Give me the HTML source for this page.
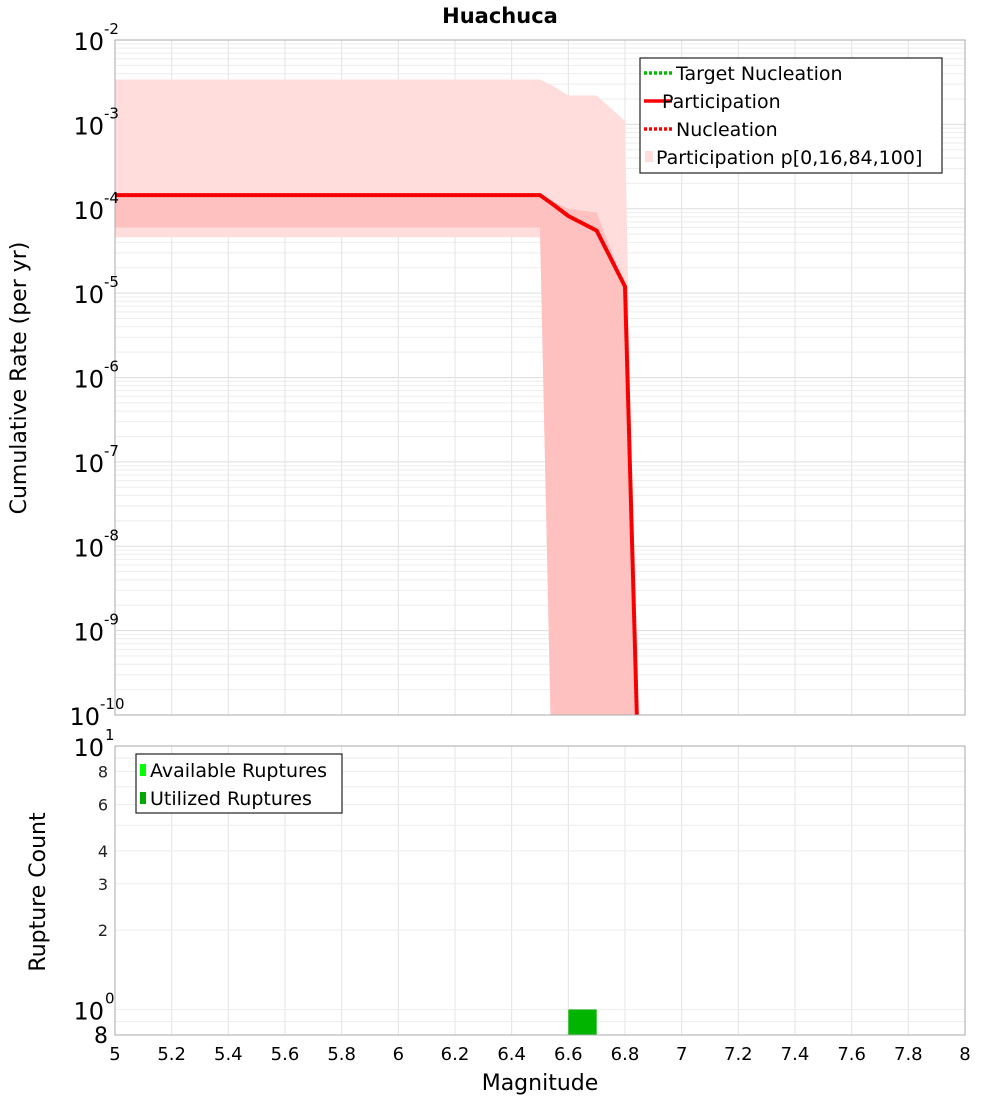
<!DOCTYPE html>
<html><head><meta charset="utf-8"><style>
body{margin:0;background:#fff;font-family:"Liberation Sans","DejaVu Sans",sans-serif}
svg text{font-family:"DejaVu Sans","Liberation Sans",sans-serif}
</style></head><body>
<svg id="c" width="1000" height="1100" xmlns="http://www.w3.org/2000/svg">
<rect width="1000" height="1100" fill="#fff"/>
<text x="500" y="23" text-anchor="middle" font-size="21" font-weight="bold">Huachuca</text>
<g id="topG"></g><g id="botG"></g>
<text x="26" y="378" font-size="22" text-anchor="middle" transform="rotate(-90 26 378)">Cumulative Rate (per yr)</text>
<text x="45" y="892" font-size="22" text-anchor="middle" transform="rotate(-90 45 892)">Rupture Count</text>
<text x="540" y="1090" font-size="22" text-anchor="middle">Magnitude</text>
</svg>
<script>
const mags=[5,6.5,6.55,6.6,6.7,6.8,6.85];
const meanRate=[1.45e-4,1.45e-4,1.1e-4,8.2e-5,5.5e-5,1.2e-5,1e-11];
const p0=[4.6e-5,4.6e-5,1e-12,1e-12,1e-12,1e-12,1e-12];
const p16=[6e-5,6e-5,1e-12,1e-12,1e-12,1e-12,1e-12];
const p84=[1.5e-4,1.5e-4,1.2e-4,1e-4,9e-5,1.2e-5,1e-12];
const p100=[3.4e-3,3.4e-3,2.8e-3,2.2e-3,2.2e-3,1.1e-3,1e-12];
const barMags=[6.65];
const barCounts=[1];
const xTicks=[5,5.2,5.4,5.6,5.8,6,6.2,6.4,6.6,6.8,7,7.2,7.4,7.6,7.8,8];
const yExps=[-2,-3,-4,-5,-6,-7,-8,-9,-10];
const NS='http://www.w3.org/2000/svg';
const L=115,R=965,T1=40,B1=715,T2=746,B2=1035;
const X=m=>L+(m-5)*(R-L)/3;
const Y1=v=>T1+(-2-Math.log10(v))*(B1-T1)/8;
const Y2=v=>T2+(1-Math.log10(v))*(B2-T2)/(1-Math.log10(0.8));
function el(p,tag,a,name){const e=document.createElementNS(NS,tag);for(const k in a)e.setAttribute(k,a[k]);


p.appendChild(e);return e;}
const svgRoot=document.getElementById('c');
const defs=el(svgRoot,'defs',{},'defs');
const cp=el(defs,'clipPath',{id:'cp1'},'clip');el(cp,'rect',{x:L,y:T1,width:R-L,height:B1-T1},'clip-rect');
const topG=document.getElementById('topG'),botG=document.getElementById('botG');
for(let e=-10;e<-2;e++)for(let k=1;k<10;k++){const y=Y1(k*Math.pow(10,e));el(topG,'line',{x1:L,x2:R,y1:y,y2:y,stroke:k==1?'#ddd':'#eee','stroke-width':1},'grid-line-y');}
for(const t of xTicks){el(topG,'line',{x1:X(t),x2:X(t),y1:T1,y2:B1,stroke:'#e4e4e4'},'grid-line-x');el(botG,'line',{x1:X(t),x2:X(t),y1:T2,y2:B2,stroke:'#e4e4e4'},'grid-line-x');}
const g=el(topG,'g',{'clip-path':'url(#cp1)'},'plot-area');
function band(lo,hi,fill,name){let pts=mags.map((m,i)=>X(m)+','+Y1(hi[i]));for(let i=mags.length-1;i>=0;i--)pts.push(X(mags[i])+','+Y1(lo[i]));el(g,'polygon',{points:pts.join(' '),fill:fill},name);}
band(p0,p100,'#ffdddd','band-p0-p100');
band(p16,p84,'#ffc0c0','band-p16-p84');
el(g,'polyline',{points:mags.map((m,i)=>X(m)+','+Y1(meanRate[i])).join(' '),fill:'none',stroke:'#f00','stroke-width':4},'participation-line');
el(g,'polyline',{points:mags.map((m,i)=>X(m)+','+Y1(meanRate[i])).join(' '),fill:'none',stroke:'#d00','stroke-width':1.5,'stroke-dasharray':'2 2'},'nucleation-line');
el(topG,'rect',{x:L,y:T1,width:R-L,height:B1-T1,fill:'none',stroke:'#aaa'},'plot-border');
for(const e of yExps){const y=Y1(Math.pow(10,e));const t=el(topG,'text',{x:e==-10?100:104,y:y+10,'font-size':24,'text-anchor':'end'},'y-tick-label');t.textContent='10';const s=el(topG,'text',{x:e==-10?100:104,y:y-6,'font-size':15},'y-tick-exp');s.textContent=e;}
el(topG,'rect',{x:640,y:58,width:302,height:115,fill:'#fff',stroke:'#222','stroke-width':1.2},'legend-box');
const leg=[['Target Nucleation','#0b0',1],['Participation','#f00',0],['Nucleation','#f00',1],['Participation p[0,16,84,100]','#ffdddd',2]];
leg.forEach((l,i)=>{const y=73+i*28;
if(l[2]==2)el(topG,'rect',{x:645,y:y-6,width:8,height:11,fill:l[1]},'legend-swatch');
else el(topG,'line',{x1:644,x2:672,y1:y,y2:y,stroke:l[1],'stroke-width':3.5,'stroke-dasharray':l[2]?'3 2':'none'},'legend-swatch');
const t=el(topG,'text',{x:l[2]==2?656:(i==1?662:676),y:y+7,'font-size':19},'legend-entry');t.textContent=l[0];});
for(const v of [1,2,3,4,5,6,7,8,9]){const y=Y2(v);el(botG,'line',{x1:L,x2:R,y1:y,y2:y,stroke:'#eee'},'grid-line-y');}
el(botG,'line',{x1:L,x2:R,y1:Y2(0.9),y2:Y2(0.9),stroke:'#eee'},'grid-line-y');
barMags.forEach((m,i)=>{el(botG,'rect',{x:X(m-0.05),y:Y2(barCounts[i]),width:X(m+0.05)-X(m-0.05),height:B2-Y2(barCounts[i]),fill:'#00b400'},'bar-utilized');});
el(botG,'rect',{x:L,y:T2,width:R-L,height:B2-T2,fill:'none',stroke:'#aaa'},'plot-border');
for(const v of [8,6,4,3,2]){const t=el(botG,'text',{x:108,y:Y2(v)+6,'font-size':16,'text-anchor':'end',fill:'#222'},'y-tick-label');t.textContent=v;}
[[10,'1'],[1,'0']].forEach(a=>{const y=Y2(a[0]);const t=el(botG,'text',{x:104,y:y+10,'font-size':24,'text-anchor':'end'},'y-tick-label');t.textContent='10';const s=el(botG,'text',{x:105,y:y-6,'font-size':15},'y-tick-exp');s.textContent=a[1];});
{const t=el(botG,'text',{x:108,y:B2+8,'font-size':22,'text-anchor':'end'},'y-tick-label');t.textContent='8';}
for(const t of xTicks){const e=el(botG,'text',{x:X(t),y:1060,'font-size':18,'text-anchor':'middle'},'x-tick-label');e.textContent=t;}
el(botG,'rect',{x:136,y:754,width:206,height:59,fill:'#fff',stroke:'#222','stroke-width':1.2},'legend-box');
[['Available Ruptures','#0f0'],['Utilized Ruptures','#0a0']].forEach((l,i)=>{const y=770+i*28;el(botG,'rect',{x:140,y:y-6,width:6,height:12,fill:l[1]},'legend-swatch');const t=el(botG,'text',{x:150,y:y+7,'font-size':19},'legend-entry');t.textContent=l[0];});
</script>
</body></html>
